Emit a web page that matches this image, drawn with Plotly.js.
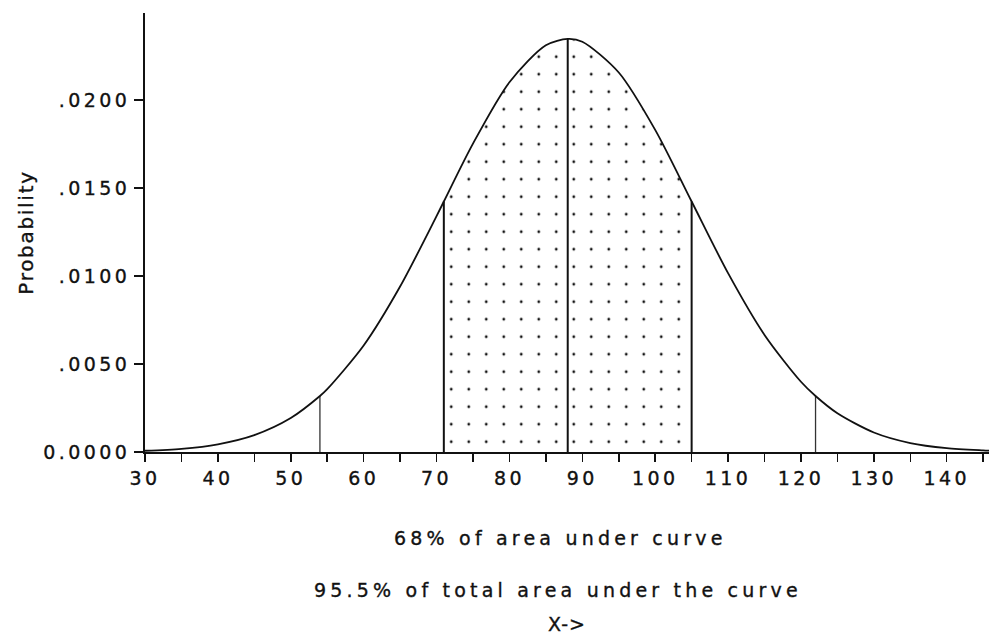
<!DOCTYPE html>
<html>
<head>
<meta charset="utf-8">
<script src="https://cdn.plot.ly/plotly-3.0.1.min.js"></script>
<style>
  html, body { margin: 0; padding: 0; background: #fff; }
  #chart { width: 1006px; height: 635px; }
  text { letter-spacing: 3.4px; stroke: #111; stroke-width: 0.35px; }
  .annotation-text { letter-spacing: 4.2px; }
  .ytitle { letter-spacing: 1.7px; }
  .xtitle { letter-spacing: 1px; }
</style>
</head>
<body>
<div id="chart"></div>
<script>
// Curve points (x, probability)
var curveX = [30, 35, 40, 45, 50, 54, 55, 60, 65, 70, 71, 75, 80, 85, 88, 90, 95, 100, 105, 110, 115, 120, 122, 125, 130, 135, 140, 145, 146];
var curveY = [0.00007, 0.00018, 0.00044, 0.00096, 0.00193, 0.00318, 0.00357, 0.00605, 0.00940, 0.01340, 0.01423, 0.01752, 0.02101, 0.02311, 0.02347, 0.02331, 0.02156, 0.01830, 0.01423, 0.01016, 0.00665, 0.00399, 0.00318, 0.00220, 0.00111, 0.00051, 0.00022, 0.00009, 0.00007];

// Shaded (dotted) band: mean +/- 1 sigma
var bandX = [71, 75, 80, 85, 88, 90, 95, 100, 105];
var bandY = [0.01423, 0.01752, 0.02101, 0.02311, 0.02347, 0.02331, 0.02156, 0.01830, 0.01423];

// Vertical marker lines
var innerLineX = [71, 88, 105];
var innerLineY = [0.01423, 0.02347, 0.01423];
var outerLineX = [54, 122];
var outerLineY = [0.00318, 0.00318];

// Tick labels
var xTickVals = [30, 40, 50, 60, 70, 80, 90, 100, 110, 120, 130, 140];
var yTickVals = [0, 0.005, 0.010, 0.015, 0.020];
var yTickText = ['0.0000', '.0050', '.0100', '.0150', '.0200'];

// Text lines under the axis
var noteLines = ['68% of area under curve', '95.5% of total area under the curve'];
var xTitle = 'X-&gt;';
var yTitle = 'Probability';

function segments(xs, ys) {
  var sx = [], sy = [];
  for (var i = 0; i < xs.length; i++) {
    sx.push(xs[i], xs[i], null);
    sy.push(0, ys[i], null);
  }
  return {x: sx, y: sy};
}
var innerSeg = segments(innerLineX, innerLineY);
var outerSeg = segments(outerLineX, outerLineY);

var FONT = 'DejaVu Sans, Verdana, sans-serif';

var traces = [
  {
    x: bandX, y: bandY, type: 'scatter', mode: 'lines',
    line: {width: 0, color: 'rgba(0,0,0,0)', shape: 'spline', smoothing: 0.8},
    fill: 'tozeroy', fillcolor: 'rgba(0,0,0,0)',
    fillpattern: {shape: '.', size: 17.5, solidity: 0.02, fgcolor: '#111', bgcolor: 'white', fillmode: 'replace'},
    hoverinfo: 'skip', showlegend: false
  },
  {
    x: outerSeg.x, y: outerSeg.y, type: 'scatter', mode: 'lines',
    line: {width: 1.3, color: '#333'}, hoverinfo: 'skip', showlegend: false
  },
  {
    x: innerSeg.x, y: innerSeg.y, type: 'scatter', mode: 'lines',
    line: {width: 2, color: '#111'}, hoverinfo: 'skip', showlegend: false
  },
  {
    x: curveX, y: curveY, type: 'scatter', mode: 'lines',
    line: {width: 1.8, color: '#111', shape: 'spline', smoothing: 0.8}, showlegend: false
  }
];

var layout = {
  width: 1006, height: 635,
  margin: {l: 145, r: 17, t: 13, b: 183},
  paper_bgcolor: 'white', plot_bgcolor: 'white',
  font: {family: FONT, size: 19, color: '#111'},
  showlegend: false,
  xaxis: {
    range: [30, 145.8],
    tickvals: xTickVals,
    ticks: 'outside', ticklen: 8, tickwidth: 1.5, tickcolor: '#111',
    minor: {dtick: 5, tick0: 30, ticks: 'outside', ticklen: 8, tickwidth: 1.5, tickcolor: '#111', showgrid: false},
    showline: true, linecolor: '#111', linewidth: 2,
    showgrid: false, zeroline: false,
    tickfont: {family: FONT, size: 19, color: '#111'},
    title: {text: xTitle, font: {family: FONT, size: 19, color: '#111'}, standoff: 133}
  },
  yaxis: {
    range: [0, 0.02494],
    tickvals: yTickVals, ticktext: yTickText,
    ticks: 'outside', ticklen: 9, tickwidth: 1.5, tickcolor: '#111',
    showline: true, linecolor: '#111', linewidth: 2,
    showgrid: false, zeroline: false,
    tickfont: {family: FONT, size: 19, color: '#111'},
    title: {text: yTitle, font: {family: FONT, size: 20, color: '#111'}, standoff: 4}
  },
  annotations: [
    {text: noteLines[0], xref: 'paper', yref: 'paper', x: 0.492, y: -0.196, xanchor: 'center', yanchor: 'middle', showarrow: false, font: {family: FONT, size: 19, color: '#111'}},
    {text: noteLines[1], xref: 'paper', yref: 'paper', x: 0.489, y: -0.314, xanchor: 'center', yanchor: 'middle', showarrow: false, font: {family: FONT, size: 19, color: '#111'}}
  ]
};

Plotly.newPlot('chart', traces, layout, {displayModeBar: false, staticPlot: true});
</script>
</body>
</html>
